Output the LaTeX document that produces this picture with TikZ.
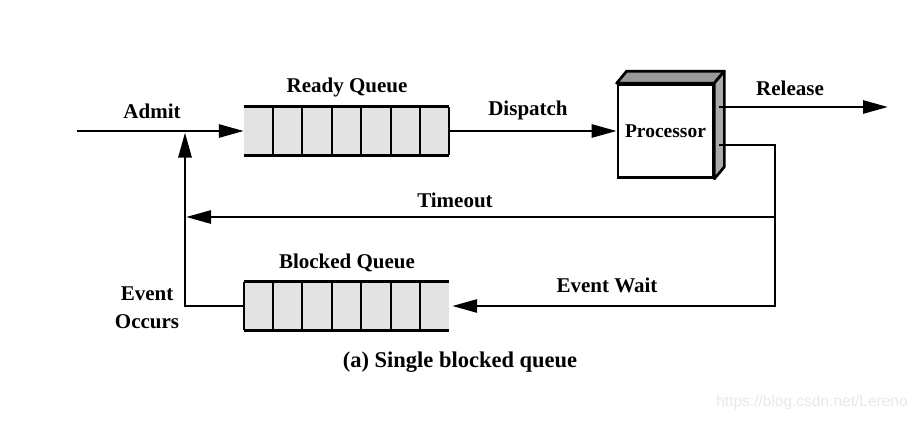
\documentclass[tikz,border=0pt]{standalone}
\usepackage{fontspec}
\setmainfont{Liberation Serif}
\newfontfamily\wmfont{Liberation Sans}
\usetikzlibrary{arrows.meta,calc}
\tikzset{
  lbl/.style={font=\fontsize{21}{24}\selectfont\bfseries, inner sep=0pt},
  conn/.style={line width=2.7pt, line join=miter, -{Triangle[length=25pt,width=13pt]}},
  queuebox/.style={rectangle, minimum width=205pt, minimum height=48pt, inner sep=0pt, fill=black!11},
  qline/.style={line width=3pt},
  qdiv/.style={line width=2pt},
}
\begin{document}
\begin{tikzpicture}[x=1pt,y=-1pt]
\useasboundingbox (0,0) rectangle (917,420);
% queues
\node[queuebox] (rq) at (346.5,131) {};
\node[queuebox] (bq) at (346.5,306) {};
% ready queue: open on the left, closed on the right
\draw[qline] (rq.north west) -- (rq.north east);
\draw[qline] (rq.south west) -- (rq.south east);
\draw[qdiv] (rq.north east) -- (rq.south east);
\foreach \i in {1,...,6} \draw[qdiv] ($(rq.north west)!\i/7!(rq.north east)$) -- ($(rq.south west)!\i/7!(rq.south east)$);
% blocked queue: closed on the left, open on the right
\draw[qline] (bq.north west) -- (bq.north east);
\draw[qline] (bq.south west) -- (bq.south east);
\draw[qdiv] (bq.north west) -- (bq.south west);
\foreach \i in {1,...,6} \draw[qdiv] ($(bq.north west)!\i/7!(bq.north east)$) -- ($(bq.south west)!\i/7!(bq.south east)$);
% processor
\node[rectangle, draw, line width=2.7pt, fill=white, minimum width=95pt, minimum height=93pt, inner sep=0pt,
      font=\fontsize{19.5}{22}\selectfont\bfseries] (proc) at (665.5,131) {Processor};
\draw[line width=2.7pt, line join=round, fill=black!40] (proc.north west) -- ++(10,-12) -- ($(proc.north east)+(10,-12)$) -- (proc.north east) -- cycle;
\draw[line width=2.7pt, line join=round, fill=black!33] (proc.north east) -- ++(10,-12) -- ($(proc.south east)+(10,-12)$) -- (proc.south east) -- cycle;
% coordinates
\coordinate (admitin) at (77,131);
\coordinate (relout) at ($(proc.east)+(5,-24)$);
\coordinate (relend) at (888,107);
\coordinate (pout) at ($(proc.east)+(5,14)$);
\coordinate (rc) at (775,145);
\coordinate (tj) at (775,217);
\coordinate (rb) at (775,306);
\coordinate (tl) at (186,217);
\coordinate (lb) at (185,306);
\coordinate (lt) at (185,132.5);
% connectors
\draw[conn] (admitin) -- (rq.west);
\draw[conn] (rq.east) -- (proc.west);
\draw[conn] (relout) -- (relend);
\draw[conn] (pout) -- (rc) -- (rb) -- ($(bq.east)+(3,0)$);
\draw[conn] (tj) -- (tl);
\draw[conn] (bq.west) -- (lb) -- (lt);
% labels
\node[lbl] (admit) at (152,111) {Admit};
\node[lbl] (rql) at (347,87) {Ready Queue};
\node[lbl] (disp) at (528,110) {Dispatch};
\node[lbl] (rel) at (790,88) {Release};
\node[lbl] (tmo) at (455,200) {Timeout};
\node[lbl] (bql) at (347,263) {Blocked Queue};
\node[lbl] (ew) at (607,285) {Event Wait};
\node[lbl, align=center, font=\fontsize{21}{28}\selectfont\bfseries] (eo) at (147,308) {Event\\Occurs};
\node[font=\fontsize{22.5}{26}\selectfont\bfseries, inner sep=0pt] (cap) at (460,362) {(a) Single blocked queue};
\node[font=\fontsize{15.5}{18}\selectfont\wmfont, text=black!9, inner sep=0pt] (wm) at (812,402) {https://blog.csdn.net/Lereno};
\end{tikzpicture}
\end{document}
